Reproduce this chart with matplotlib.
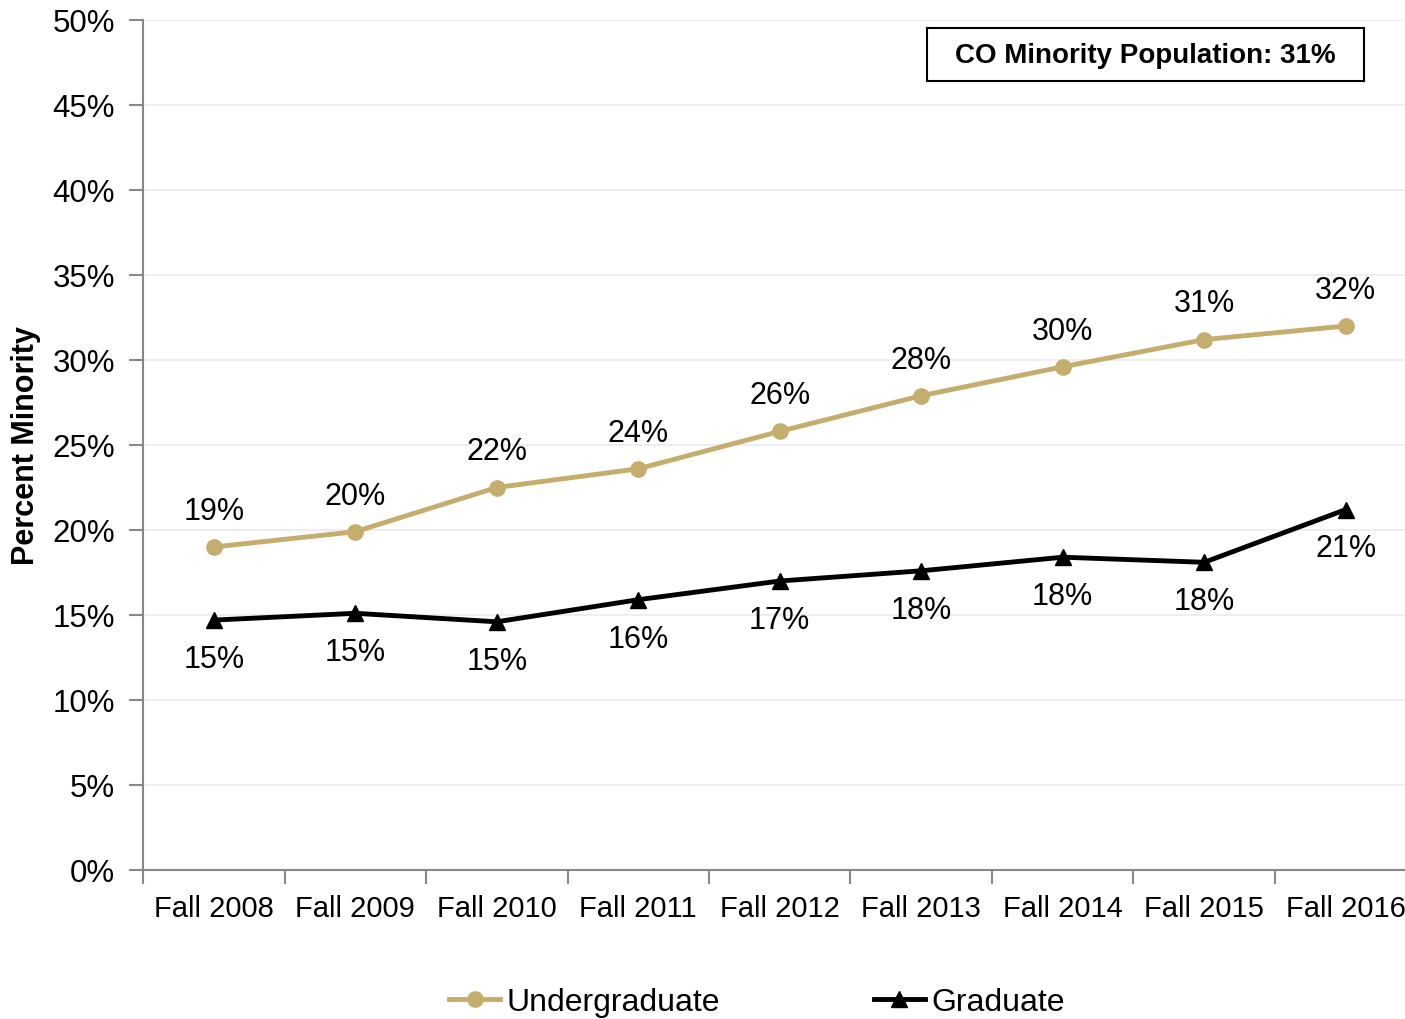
import numpy as np
import matplotlib
matplotlib.use("Agg")
import matplotlib.pyplot as plt
from matplotlib.patches import Rectangle

plt.rcParams['font.family'] = ['Liberation Sans', 'DejaVu Sans']

terms = ["Fall 2008", "Fall 2009", "Fall 2010", "Fall 2011", "Fall 2012",
         "Fall 2013", "Fall 2014", "Fall 2015", "Fall 2016"]
undergrad = [19.0, 19.9, 22.5, 23.6, 25.8, 27.9, 29.6, 31.2, 32.0]
graduate = [14.7, 15.1, 14.6, 15.9, 17.0, 17.6, 18.4, 18.1, 21.2]
undergrad_labels = ["19%", "20%", "22%", "24%", "26%", "28%", "30%", "31%", "32%"]
graduate_labels = ["15%", "15%", "15%", "16%", "17%", "18%", "18%", "18%", "21%"]
state_note = "CO Minority Population: 31%"

gold = "#C5AD6E"

fig = plt.figure(figsize=(14.05, 10.20), dpi=100)
# axes extends slightly past the right edge, like the original
ax = fig.add_axes([143 / 1405, 1 - 871 / 1020, (9 * 141.5) / 1405, 850 / 1020])

x = np.arange(len(terms))
ax.plot(x, undergrad, color=gold, lw=3.5, marker="o", ms=11, label="Undergraduate")
ax.plot(x, graduate, color="black", lw=3.5, marker="^", ms=11, label="Graduate")

for i, (v, t) in enumerate(zip(undergrad, undergrad_labels)):
    ax.annotate(t, (i, v), xytext=(0, 26), textcoords="offset points",
                ha="center", va="center", fontsize=22)
for i, (v, t) in enumerate(zip(graduate, graduate_labels)):
    ax.annotate(t, (i, v), xytext=(0, -28), textcoords="offset points",
                ha="center", va="center", fontsize=22)

ax.set_xlim(-0.5, 8.5)
ax.set_ylim(0, 50)
ax.set_yticks(np.arange(0, 51, 5))
ax.set_yticklabels([f"{v}%" for v in range(0, 51, 5)], fontsize=22.5)
ax.set_xticks(x)
ax.set_xticklabels(terms, fontsize=21)
ax.set_xticks(np.arange(-0.5, 9, 1), minor=True)
ax.tick_params(axis="x", which="major", length=0, pad=17)
ax.tick_params(axis="x", which="minor", length=10, color="#888888", width=1.5)
ax.tick_params(axis="y", length=10, color="#888888", width=1.5, pad=10)
ax.grid(axis="y", color="#EEEEEE", lw=1.5)
ax.set_axisbelow(True)
for s in ["top", "right"]:
    ax.spines[s].set_visible(False)
for s in ["left", "bottom"]:
    ax.spines[s].set_color("#888888")
    ax.spines[s].set_linewidth(1.5)

ax.set_ylabel("Percent Minority", fontsize=22, fontweight="bold", labelpad=8)

# note box
fig.patches.append(Rectangle((927 / 1405, 1 - 82 / 1020), 437 / 1405, 53 / 1020,
                             transform=fig.transFigure, fc="white", ec="black", lw=1.5))
fig.text(1145 / 1405, 1 - 56 / 1020, state_note, ha="center", va="center",
         fontsize=20, fontweight="bold")

fig.legend(loc="center", bbox_to_anchor=(757 / 1405, 1 - 1003 / 1020), ncol=2,
           frameon=False, fontsize=23, handlelength=1.6, handletextpad=0.2,
           columnspacing=4.8)

fig.savefig("out.png", dpi=100)
